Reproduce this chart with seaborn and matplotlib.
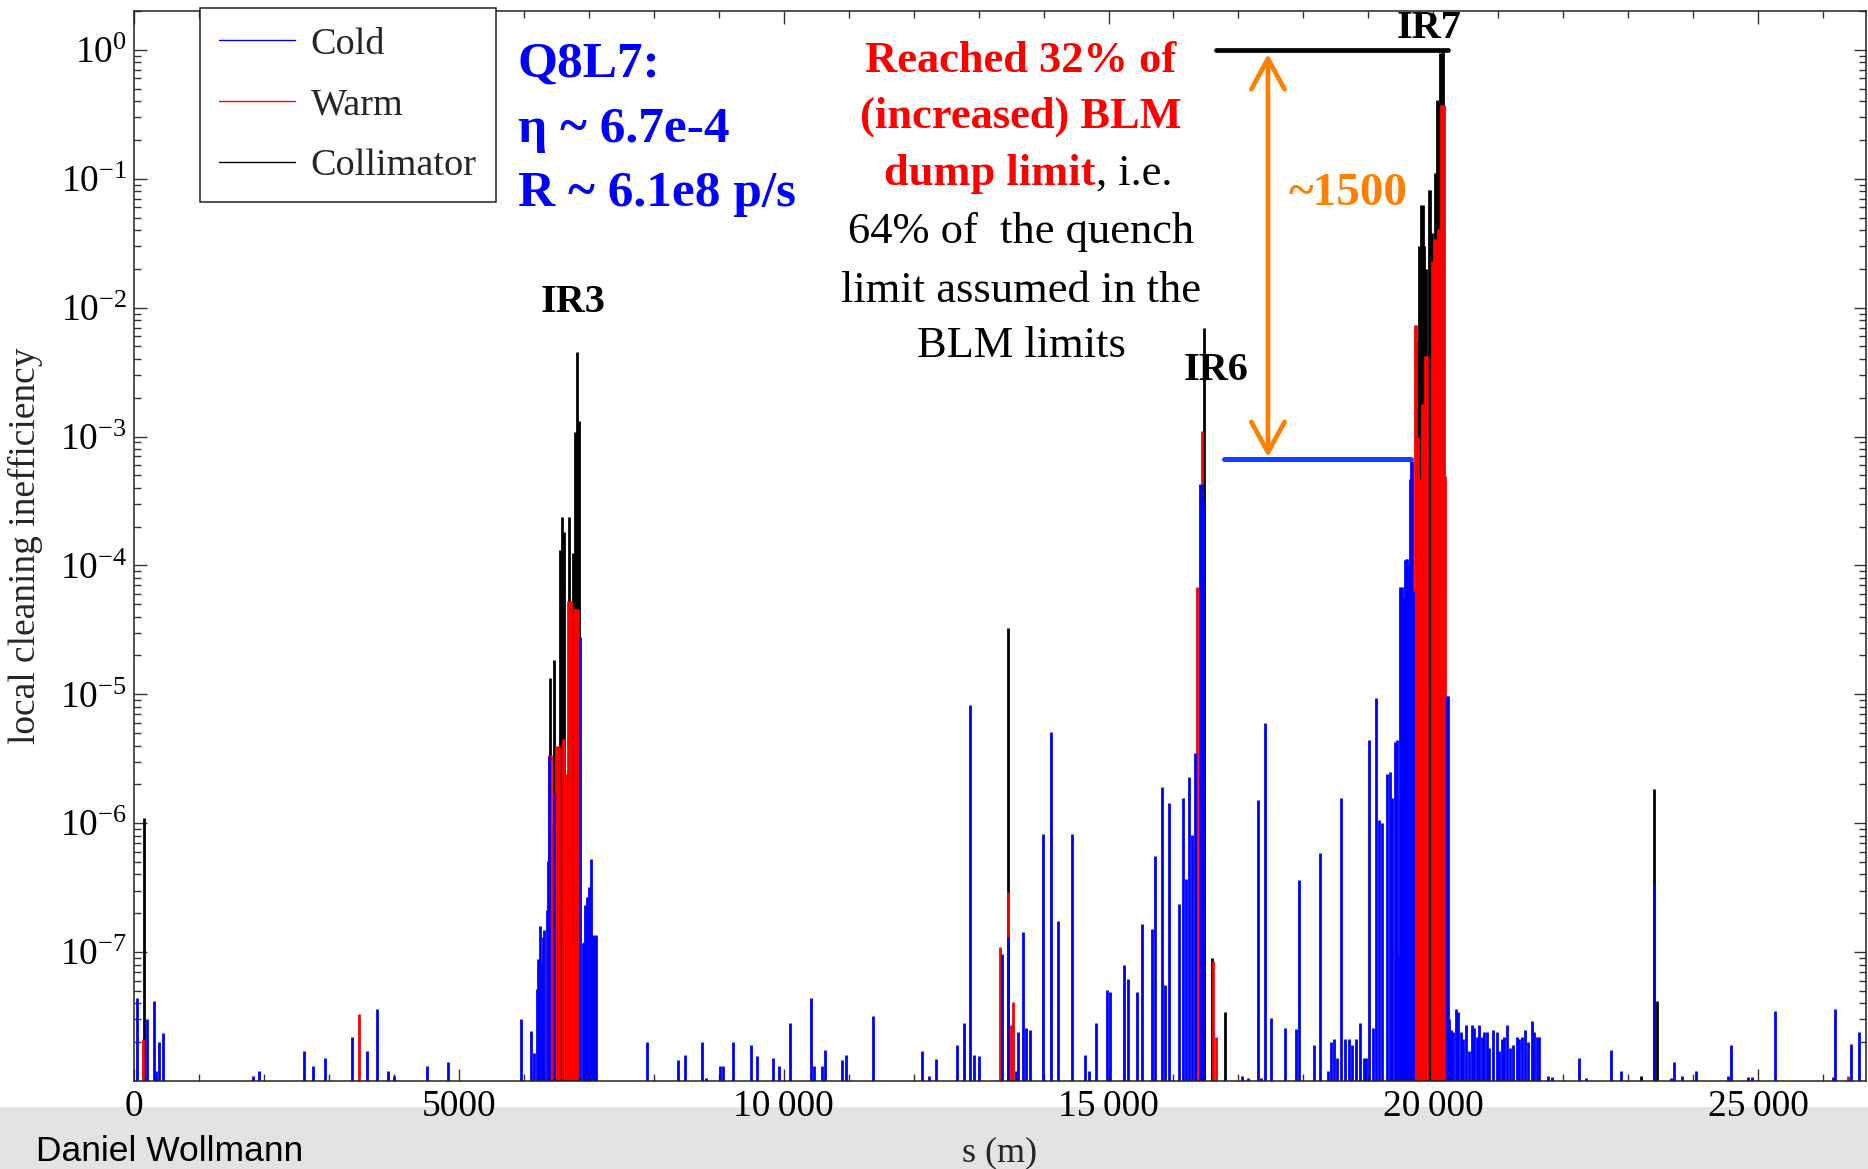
import matplotlib
matplotlib.use("Agg")
import matplotlib.pyplot as plt
import seaborn as sns
from matplotlib.lines import Line2D
from matplotlib.patches import Rectangle
from matplotlib.ticker import LogLocator, NullFormatter, LogFormatterMathtext, MultipleLocator, FixedLocator

# ---------------- data ----------------
ring_length = 26659.0
y_floor = 1e-8
y_top = 2.0

cold_s = [51, 205, 312, 340, 390, 441, 1834, 1925, 2622, 2751, 2935, 3358, 3579, 3744, 3910, 4002, 4517, 4830,
          5951, 6111, 6157, 6208, 6223, 6249, 6275, 6290, 6311, 6352, 6372, 6386, 6464, 6865, 6906, 6925,
          6942, 6978, 7009, 7039, 7070, 7085, 7106,
          7891, 8378, 8481, 8737, 8799, 9020, 9060, 9225, 9492, 9594, 9840, 9933, 10097, 10415, 10466, 10584,
          10636, 10892, 10954, 11380, 12124, 12236, 12339, 12662, 12770, 12873, 12929, 13006, 13360, 13458,
          13571, 13612, 13688, 13729, 13796, 13996, 14114, 14222, 14438, 14643, 14704, 14807, 14971, 15028,
          15238, 15294, 15443, 15510, 15664, 15720, 15818, 15874, 15931, 16089, 16141, 16192, 16244, 16279,
          16331, 16415, 16440, 16460,
          17049, 17150, 17295, 17350, 17409, 17507, 17719, 17886, 17932, 18159, 18258, 18371, 18417, 18470,
          18523, 18576, 18637, 18697, 18751, 18811, 18864, 18925, 18963, 19008, 19077, 19115, 19160, 19204,
          19291, 19327, 19342, 19368, 19409, 19441, 19470, 19490, 19512, 19537, 19560, 19580, 19599, 19620,
          19640, 19655, 19670, 19691,
          20205, 20220,
          20248, 20266, 20307, 20348, 20384, 20420, 20461, 20502, 20553, 20589, 20625, 20666, 20707, 20743,
          20779, 20820, 20861, 20922, 20974, 21015, 21051, 21087, 21128, 21179, 21220, 21282, 21323, 21359,
          21410, 21461, 21512, 21548, 21589, 21630, 21769, 21820,
          22238, 22350, 22732, 22891, 23391, 23650, 23710, 23823, 24043, 24530, 24576, 24850, 24900, 25263,
          26150, 26181, 26431, 26549]
cold_v = [4.4e-8, 3.0e-8, 4.2e-8, 1.2e-8, 2.0e-8, 2.35e-8, 1.1e-8, 1.2e-8, 1.7e-8, 1.3e-8, 1.5e-8, 2.2e-8,
          1.7e-8, 3.6e-8, 1.2e-8, 1.1e-8, 1.3e-8, 1.4e-8,
          3.05e-8, 2.46e-8, 1.66e-8, 5.2e-8, 8.8e-8, 1.58e-7, 8.3e-8, 1.3e-7, 1.48e-7, 2.13e-7, 5.06e-7,
          3.3e-6, 1.73e-6, 2.78e-5, 1.18e-7, 1.2e-7, 2.33e-7, 2.67e-7, 3.2e-7, 5.3e-7, 1.35e-7,
          1.3e-7, 1.35e-7,
          2.0e-8, 1.45e-8, 1.6e-8, 2.0e-8, 1.05e-8, 1.3e-8, 1.3e-8, 2.0e-8, 1.9e-8, 1.55e-8, 1.5e-8, 1.3e-8,
          2.8e-8, 4.4e-8, 1.3e-8, 1.3e-8, 1.75e-8, 1.45e-8, 1.6e-8, 3.2e-8, 1.72e-8, 1.1e-8, 1.47e-8, 1.9e-8,
          2.83e-8, 8.2e-6, 1.6e-8, 1.55e-8, 9.6e-8, 1.3e-7, 1.2e-8, 2.4e-8, 1.44e-7, 2.6e-8, 2.5e-8, 8.2e-7,
          5.1e-6, 1.74e-7, 8.2e-7, 1.6e-8, 1.2e-8, 2.8e-8, 5.1e-8, 4.9e-8, 7.9e-8, 6.2e-8, 4.9e-8, 1.65e-7,
          1.5e-7, 5.6e-7, 1.9e-6, 5.6e-8, 1.44e-6, 2.35e-7, 1.58e-6, 3.66e-7, 2.3e-6, 8.1e-7, 3.5e-6,
          4.3e-4, 4.3e-4, 3.2e-4,
          1.1e-8, 1.05e-8, 1.51e-6, 1.05e-8, 5.95e-6, 3.1e-8, 2.6e-8, 2.55e-8, 3.6e-7, 1.9e-8, 5.9e-7, 1.2e-8,
          2.0e-8, 2.1e-8, 1.5e-8, 1.57e-6, 2.1e-8, 2.1e-8, 1.9e-8, 2.1e-8, 2.8e-8, 1.5e-8, 1.5e-8, 4.4e-6,
          2.6e-8, 9.3e-6, 1.05e-6, 1.0e-6, 2.4e-6, 2.5e-6, 2.3e-8, 1.57e-6, 4.3e-6, 4.4e-6, 9.3e-8, 6.8e-5,
          6.8e-5, 5.6e-5, 1.1e-4, 1.12e-4, 1.12e-4, 1.0e-4,
          4.7e-4, 6.7e-4, 6.5e-4, 6.3e-5,
          9.7e-6, 9.7e-6,
          3.0e-8, 2.5e-8, 2.4e-8, 3.6e-8, 3.4e-8, 2.4e-8, 2.1e-8, 2.7e-8, 1.7e-8, 2.7e-8, 2.6e-8, 2.2e-8,
          2.7e-8, 2.2e-8, 2.4e-8, 2.4e-8, 1.8e-8, 2.5e-8, 2.4e-8, 1.7e-8, 2.1e-8, 2.2e-8, 2.7e-8, 1.8e-8,
          1.9e-8, 2.2e-8, 2.1e-8, 2.2e-8, 2.5e-8, 2.0e-8, 2.9e-8, 2.4e-8, 2.2e-8, 2.2e-8, 1.1e-8, 1.08e-8,
          1.5e-8, 1.05e-8, 1.74e-8, 1.2e-8, 3.4e-7, 1.05e-8, 1.4e-8, 1.1e-8, 1.2e-8, 1.1e-8, 1.9e-8, 1.08e-8,
          1.08e-8, 3.5e-8, 1.08e-8, 3.6e-8, 1.95e-8, 2.4e-8]

warm_s = [145, 3468,
          6395, 6415, 6435, 6500, 6520, 6540, 6600, 6620, 6640, 6660, 6685, 6705, 6720, 6745, 6775, 6795,
          6815, 6830,
          13324, 13447, 13500, 13524, 16369, 16440, 16613, 16654,
          19715, 19735, 19758, 19800, 19822, 19842, 19865, 19885, 19905,
          19980, 20005, 20025, 20045, 20065, 20085, 20110, 20130, 20150, 20165, 20185,
          26380]
warm_v = [2.1e-8, 3.3e-8,
          3.4e-6, 3.4e-6, 1.0e-6, 4.0e-6, 4.0e-6, 4.0e-6, 4.5e-6, 4.5e-6, 2.4e-6, 2.4e-6, 5.3e-5, 5.3e-5,
          5.3e-5, 1.1e-7, 4.6e-5, 4.6e-5, 4.6e-5, 4.6e-5,
          1.1e-7, 2.9e-7, 2.7e-8, 4.1e-8, 6.8e-5, 1.1e-3, 8.5e-8, 2.2e-8,
          7.3e-3, 7.3e-3, 1.0e-3, 4.7e-4, 1.8e-3, 1.8e-3, 4.2e-3, 4.2e-3, 4.2e-3,
          2.3e-2, 3.4e-2, 3.4e-2, 3.4e-2, 4.1e-2, 4.1e-2, 0.37, 0.37, 0.37, 0.37, 4.9e-4,
          1.1e-8]

coll_s = [150,
          6398, 6465, 6495, 6557, 6593, 6624, 6660, 6701, 6762, 6788, 6824, 6844,
          13458, 16475, 16597, 16792,
          19758, 19783, 19804, 19835, 19860, 19890, 19935, 19955, 19985, 20025, 20050, 20076, 20102,
          20127, 20153,
          23194, 23391, 23437]
coll_v = [1.1e-6,
          1.34e-5, 1.85e-5, 1.5e-6, 1.31e-4, 2.36e-4, 1.8e-4, 2.0e-6, 2.36e-4, 1.25e-4, 1.08e-3, 4.56e-3, 1.33e-3,
          3.27e-5, 6.9e-3, 9.0e-8, 3.4e-8,
          5.5e-3, 3.0e-2, 6.3e-2, 6.3e-2, 3.0e-2, 2.0e-2, 8.1e-2, 8.1e-2, 3.8e-2, 0.11, 0.41, 0.39, 0.94,
          0.94, 1.0,
          1.1e-8, 1.85e-6, 4.2e-8]

# reference levels drawn on the plot
peak_level_s = [16654, 20225]
peak_level_v = [1.0, 1.0]
q8l7_level_s = [16777, 19655]
q8l7_level_v = [6.7e-4, 6.7e-4]
ratio_arrow_s = 17454
ratio_arrow_v = [0.93, 6.9e-4]

xtick_values = [0, 5000, 10000, 15000, 20000, 25000]
xtick_labels = ["0", "5000", "10\u2009000", "15\u2009000", "20\u2009000", "25\u2009000"]
ytick_values = [1e-7, 1e-6, 1e-5, 1e-4, 1e-3, 1e-2, 1e-1, 1e0]
legend_labels = ["Cold", "Warm", "Collimator"]

# ---------------- style ----------------
sns.set_theme(style="ticks")
plt.rcParams['font.family'] = ['Liberation Serif', 'DejaVu Serif']
plt.rcParams['mathtext.fontset'] = 'stix'

W, H = 1868, 1169
fig = plt.figure(figsize=(W / 100, H / 100), dpi=100)
fig.patch.set_facecolor('white')


def fx(x):
    return x / W


def fy(y):
    return 1 - y / H


# grey footer band
fig.patches.append(Rectangle((0, 0), 1, (H - 1107) / H, transform=fig.transFigure,
                             facecolor='#e3e3e3', edgecolor='none', zorder=-5))

left, right, top, bottom = 134, 1866, 11, 1081
ax = fig.add_axes([fx(left), fy(bottom), (right - left) / W, (bottom - top) / H])
ax.set_facecolor('white')
ax.set_yscale('log')
ax.set_xlim(0, ring_length)
ax.set_ylim(y_floor, y_top)

BLUE, RED, BLACK = '#0000ff', '#ff0000', '#000000'
# collimators first, then warm, then cold on top (as in the original)
ax.vlines(coll_s, y_floor, coll_v, colors=BLACK, lw=2.0, zorder=2.0)
ax.vlines(warm_s, y_floor, warm_v, colors=RED, lw=2.0, zorder=2.1)
ax.vlines(cold_s, y_floor, cold_v, colors=BLUE, lw=2.0, zorder=2.2)

sns.lineplot(x=peak_level_s, y=peak_level_v, ax=ax, color='black', lw=3.4, zorder=4)
sns.lineplot(x=q8l7_level_s, y=q8l7_level_v, ax=ax, color='#1040ff', lw=3.6, zorder=4)

ax.annotate('', xy=(ratio_arrow_s, ratio_arrow_v[0]), xytext=(ratio_arrow_s, ratio_arrow_v[1]),
            arrowprops=dict(arrowstyle='<->,head_length=1.1,head_width=0.6', color='#ff8000', lw=3.4,
                            shrinkA=0, shrinkB=0, mutation_scale=20), zorder=5)

# axes / ticks
ax.xaxis.set_major_locator(FixedLocator(xtick_values))
ax.set_xticklabels(xtick_labels)
ax.xaxis.set_minor_locator(MultipleLocator(1000))
ax.yaxis.set_major_locator(FixedLocator(ytick_values))
ax.yaxis.set_major_formatter(LogFormatterMathtext())
ax.yaxis.set_minor_locator(LogLocator(base=10, subs=[2, 3, 4, 5, 6, 7, 8, 9], numticks=30))
ax.yaxis.set_minor_formatter(NullFormatter())
ax.tick_params(which='both', direction='in', top=True, right=True, colors='#333333', labelcolor='black',
               width=1.0, labelsize=27)
ax.tick_params(which='major', length=9)
ax.tick_params(which='minor', length=5)
ax.tick_params(axis='x', pad=6)
ax.tick_params(axis='y', pad=5)
for sp in ax.spines.values():
    sp.set_color('#222222')
    sp.set_linewidth(1.1)
ax.grid(False)

ax.set_ylabel('local cleaning inefficiency', fontsize=27)
ax.yaxis.label.set_va('baseline')
ax.yaxis.set_label_coords((35 - left) / (right - left), 0.5)
ax.set_xlabel('s (m)', fontsize=26)
ax.xaxis.label.set_va('baseline')
ax.xaxis.set_label_coords(0.5, -(1161 - bottom) / (bottom - top))

# legend
handles = [Line2D([], [], color=BLUE, lw=1.0), Line2D([], [], color=RED, lw=1.0),
           Line2D([], [], color=BLACK, lw=1.0)]
leg = ax.legend(handles, legend_labels, loc='upper left', bbox_to_anchor=(fx(200), fy(8)),
                bbox_transform=fig.transFigure, frameon=True, fancybox=False, framealpha=1,
                edgecolor='#222222', fontsize=27.5, handlelength=2.0, handletextpad=0.4,
                labelspacing=0.68, borderpad=0.5, borderaxespad=0)
leg.get_frame().set_linewidth(1.1)
leg.set_zorder(6)

# annotations
bold_blue = dict(color='#0000ff', fontsize=37, fontweight='bold', ha='left', va='baseline')
fig.text(fx(518), fy(77), 'Q8L7:', **bold_blue)
fig.text(fx(518), fy(142), '\u03b7 ~ 6.7e-4', **bold_blue)
fig.text(fx(518), fy(206), 'R ~ 6.1e8 p/s', **bold_blue)

red_b = dict(color='#ff0000', fontsize=32, fontweight='bold', va='baseline')
blk = dict(color='black', fontsize=32, va='baseline')
cx = 1021
fig.text(fx(cx), fy(72), 'Reached 32% of', ha='center', **red_b)
fig.text(fx(cx), fy(128), '(increased) BLM', ha='center', **red_b)
fig.text(fx(1096), fy(185), 'dump limit', ha='right', **red_b)
fig.text(fx(1096), fy(185), ', i.e.', ha='left', **blk)
fig.text(fx(cx), fy(243), '64% of  the quench', ha='center', **blk)
fig.text(fx(cx), fy(302), 'limit assumed in the', ha='center', **blk)
fig.text(fx(cx), fy(357), 'BLM limits', ha='center', **blk)

fig.text(fx(1348), fy(205), '~1500', color='#ff8000', fontsize=34, fontweight='bold', ha='center', va='baseline')

ir = dict(color='black', fontsize=29, fontweight='bold', ha='center', va='baseline')
fig.text(fx(573), fy(312), 'IR3', **ir)
fig.text(fx(1216), fy(380), 'IR6', **ir)
fig.text(fx(1429), fy(38), 'IR7', **ir)

fig.text(fx(36), fy(1161), 'Daniel Wollmann', family=['Liberation Sans', 'DejaVu Sans'], fontsize=25.5,
         color='black', ha='left', va='baseline')

fig.savefig('out.png', dpi=100, facecolor='white')
